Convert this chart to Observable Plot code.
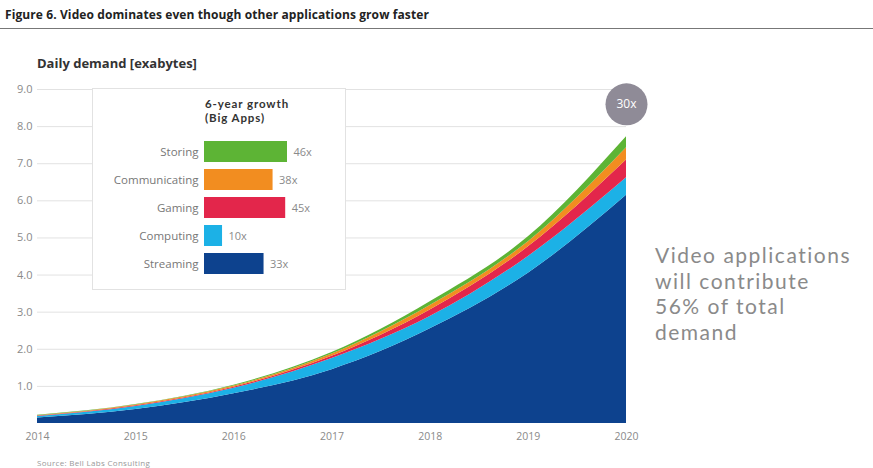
<!DOCTYPE html>
<html>
<head>
<meta charset="utf-8">
<script src="https://cdn.jsdelivr.net/npm/d3@7"></script>
<script src="https://cdn.jsdelivr.net/npm/@observablehq/plot@0.6"></script>
<style>
  body { margin: 0; background: #fff; }
  #wrap { position: relative; width: 873px; height: 468px; overflow: hidden; font-family: "Open Sans", sans-serif; }
  .abs { position: absolute; white-space: nowrap; }
  #main { left: 0; top: 0; width: 873px; height: 468px; }
  #title { left: 5px; top: 6px; font-size: 12px; font-weight: bold; color: #222; letter-spacing: 0.1px; }
  #rule { left: 0; top: 28px; width: 873px; height: 0; border-top: 1.5px solid #777; }
  #ylab { left: 37px; top: 54px; font-size: 13px; font-weight: bold; color: #333; }
  #source { left: 37px; top: 457px; font-size: 8px; color: #999; letter-spacing: 0.3px; }
  #note { left: 655px; top: 242px; font-family: Lato, sans-serif; font-size: 21px; line-height: 25.5px; letter-spacing: 1.5px; color: #8a8a8a; }
  #inset { left: 92px; top: 88px; width: 252px; height: 200px; background: #fff; border: 1px solid #e2e2e2; }
  #insetTitle { left: 112px; top: 8px; font-family: Lato, sans-serif; font-size: 11.5px; font-weight: bold; line-height: 14px; letter-spacing: 0.9px; color: #333; }
  #inset svg, #main svg { position: absolute; left: 0; top: 0; max-width: none !important; }
</style>
</head>
<body>
<div id="wrap">
  <div id="main" class="abs"></div>
  <div id="title" class="abs">Figure 6. Video dominates even though other applications grow faster</div>
  <div id="rule" class="abs"></div>
  <div id="ylab" class="abs">Daily demand [exabytes]</div>
  <div id="inset" class="abs"><div id="insetTitle" class="abs">6-year growth<br>(Big Apps)</div></div>
  <div id="note" class="abs">Video applications<br>will contribute<br>56% of total<br>demand</div>
  <div id="source" class="abs">Source: Bell Labs Consulting</div>
</div>
<script>
// ---- data ----
const years = [2014, 2015, 2016, 2017, 2018, 2019, 2020];
const seriesNames = ["Streaming", "Computing", "Gaming", "Communicating", "Storing"];
const streaming     = [0.15, 0.38, 0.80, 1.45, 2.55, 4.05, 6.15];
const computing     = [0.04, 0.08, 0.15, 0.30, 0.33, 0.45, 0.47];
const gaming        = [0.01, 0.02, 0.03, 0.06, 0.18, 0.26, 0.48];
const communicating = [0.01, 0.02, 0.03, 0.06, 0.12, 0.14, 0.33];
const storing       = [0.01, 0.01, 0.02, 0.04, 0.10, 0.13, 0.30];
const seriesColors  = ["#0d428e", "#1cb1e6", "#e3264b", "#f28d20", "#5db435"];

const yTicks = [1, 2, 3, 4, 5, 6, 7, 8, 9];

const growthApps   = ["Storing", "Communicating", "Gaming", "Computing", "Streaming"];
const growthValues = [46, 38, 45, 10, 33];
const growthColors = ["#5db435", "#f28d20", "#e3264b", "#1cb1e6", "#0d428e"];

const badgeYear = [2020];
const badgeValue = [8.6];
const badgeLabel = ["30x"];

// ---- build tables ----
const seriesValues = [streaming, computing, gaming, communicating, storing];
const table = [];
seriesNames.forEach((s, i) => years.forEach((yr, j) => table.push({year: yr, series: s, value: seriesValues[i][j]})));
const growth = growthApps.map((a, i) => ({app: a, value: growthValues[i], color: growthColors[i]}));
const badge = badgeYear.map((yr, i) => ({year: yr, value: badgeValue[i], label: badgeLabel[i]}));

const main = Plot.plot({
  width: 873, height: 468,
  marginLeft: 37, marginRight: 247, marginTop: 89, marginBottom: 45,
  style: {fontFamily: "Open Sans, sans-serif", fontSize: "10.5px", color: "#8a8a8a", background: "transparent"},
  x: {domain: [2014, 2020], label: null},
  y: {domain: [0, 9], label: null},
  color: {domain: seriesNames, range: seriesColors},
  marks: [
    Plot.ruleY(yTicks, {stroke: "#e2e2e2", strokeWidth: 1}),
    Plot.areaY(table, {x: "year", y: "value", z: "series", fill: "series", order: seriesNames, curve: "monotone-x"}),
    Plot.axisX({ticks: years, tickFormat: d => String(d), tickSize: 0, tickPadding: 9, fill: "#8a8a8a", label: null, fontSize: 10.5, letterSpacing: "1px"}),
    Plot.axisY({ticks: yTicks, tickFormat: d => d.toFixed(1), tickSize: 0, tickPadding: 5, fill: "#8a8a8a", label: null, fontSize: 11}),
    Plot.dot(badge, {x: "year", y: "value", r: 21, fill: "#8f8b97"}),
    Plot.text(badge, {x: "year", y: "value", text: "label", fill: "#fff", fontSize: 12})
  ]
});
document.getElementById("main").appendChild(main);

const inset = Plot.plot({
  width: 252, height: 200,
  marginLeft: 111, marginRight: 58, marginTop: 44, marginBottom: 8,
  style: {fontFamily: "Open Sans, sans-serif", fontSize: "11.5px", color: "#777", background: "transparent"},
  x: {domain: [0, 46], axis: null},
  y: {domain: growthApps, padding: 0.26, label: null, tickSize: 0, tickPadding: 6},
  marks: [
    Plot.barX(growth, {x: "value", y: "app", fill: "color"}),
    Plot.text(growth, {x: "value", y: "app", text: d => d.value + "x", textAnchor: "start", dx: 6, fill: "#8a8a8a", fontSize: 11})
  ]
});
document.getElementById("inset").appendChild(inset);
</script>
</body>
</html>
